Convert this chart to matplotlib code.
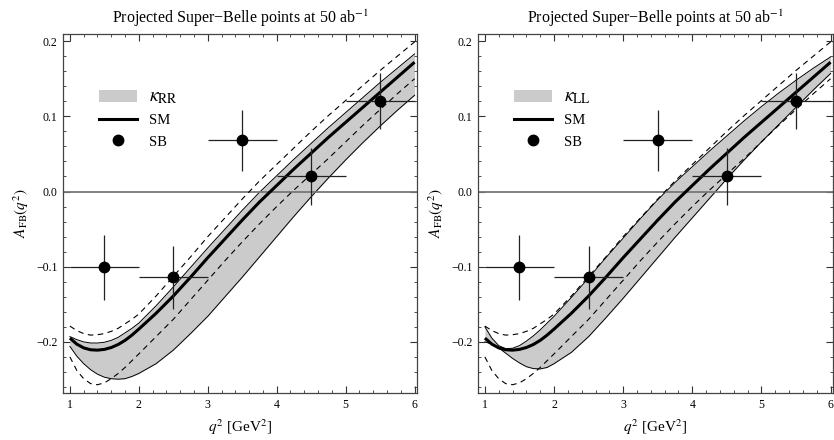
import matplotlib
matplotlib.use("Agg")
import matplotlib.pyplot as plt
from matplotlib.ticker import MultipleLocator, FuncFormatter
from matplotlib.patches import Patch
from matplotlib.lines import Line2D

plt.rcParams['font.family'] = ['Liberation Serif', 'DejaVu Serif']
plt.rcParams['mathtext.fontset'] = 'stix'

# ---- data ----
q2 = [1.0, 1.1, 1.2, 1.3, 1.4, 1.5, 1.6, 1.7, 1.8, 1.9, 2.0, 2.25, 2.5, 2.75,
      3.0, 3.25, 3.5, 3.75, 4.0, 4.25, 4.5, 4.75, 5.0, 5.25, 5.5, 5.75, 6.0]

sm = [-0.195, -0.203, -0.208, -0.2105, -0.211, -0.210, -0.2075, -0.2035, -0.198,
      -0.191, -0.183, -0.162, -0.139, -0.114, -0.088, -0.063, -0.038, -0.014,
      0.008, 0.030, 0.051, 0.072, 0.092, 0.112, 0.132, 0.152, 0.172]

dash_upper = [-0.179, -0.185, -0.189, -0.191, -0.1905, -0.189, -0.186, -0.182, -0.176,
              -0.170, -0.163, -0.139, -0.113, -0.087, -0.060, -0.035, -0.010, 0.014,
              0.036, 0.058, 0.080, 0.101, 0.121, 0.141, 0.161, 0.180, 0.199]

dash_lower = [-0.220, -0.238, -0.249, -0.2555, -0.257, -0.2545, -0.249, -0.242, -0.234,
              -0.225, -0.216, -0.193, -0.170, -0.144, -0.118, -0.092, -0.067, -0.043,
              -0.020, 0.002, 0.023, 0.044, 0.066, 0.088, 0.109, 0.130, 0.150]

rr_upper = [-0.193, -0.197, -0.200, -0.2015, -0.2015, -0.2005, -0.198, -0.194, -0.188,
            -0.182, -0.175, -0.152, -0.127, -0.101, -0.075, -0.050, -0.025, -0.001,
            0.021, 0.043, 0.064, 0.085, 0.105, 0.125, 0.145, 0.164, 0.183]

rr_lower = [-0.206, -0.219, -0.229, -0.237, -0.243, -0.247, -0.249, -0.2496, -0.249,
            -0.246, -0.242, -0.229, -0.211, -0.189, -0.166, -0.140, -0.114, -0.087,
            -0.060, -0.033, -0.007, 0.018, 0.042, 0.065, 0.087, 0.108, 0.128]

ll_edge_a = [-0.180, -0.195, -0.205, -0.209, -0.2085, -0.205, -0.199, -0.192, -0.184,
             -0.175, -0.166, -0.141, -0.115, -0.088, -0.062, -0.036, -0.011, 0.012,
             0.033, 0.054, 0.074, 0.094, 0.113, 0.131, 0.148, 0.164, 0.179]

ll_edge_b = [-0.200, -0.203, -0.208, -0.215, -0.222, -0.228, -0.233, -0.2355, -0.236,
             -0.234, -0.229, -0.214, -0.193, -0.168, -0.142, -0.115, -0.088, -0.061,
             -0.035, -0.009, 0.017, 0.042, 0.066, 0.089, 0.112, 0.135, 0.157]

sb_q2 = [1.5, 2.5, 3.5, 4.5, 5.5]
sb_afb = [-0.101, -0.114, 0.068, 0.020, 0.120]
sb_xerr = [0.5, 0.5, 0.5, 0.5, 0.5]
sb_yerr = [0.043, 0.042, 0.041, 0.038, 0.037]

panels = [
    ("$\\kappa_{\\rm RR}$", rr_upper, rr_lower),
    ("$\\kappa_{\\rm LL}$", ll_edge_a, ll_edge_b),
]

title = "Projected Super\u2212Belle points at 50 ab$^{-1}$"

W, H = 834, 440
fig = plt.figure(figsize=(W / 100, H / 100), dpi=100)
axes_px = [(63, 34, 417, 393), (478, 34, 833, 393)]

band_color = '#cbcbcb'

for (x0, y0, x1, y1), (lab, up, lo) in zip(axes_px, panels):
    ax = fig.add_axes([x0 / W, 1 - y1 / H, (x1 - x0) / W, (y1 - y0) / H])
    ax.set_xlim(0.9, 6.035)
    ax.set_ylim(-0.268, 0.2095)

    ax.fill_between(q2, up, lo, color=band_color, lw=0, zorder=1)
    ax.plot(q2, up, color='black', lw=0.7, zorder=2)
    ax.plot(q2, lo, color='black', lw=0.7, zorder=2)
    ax.plot(q2, dash_upper, color='black', lw=0.8, dashes=(5, 4), zorder=3)
    ax.plot(q2, dash_lower, color='black', lw=0.8, dashes=(5, 4), zorder=3)
    ax.axhline(0, color='#777777', lw=1.3, zorder=2.5)
    ax.plot(q2, sm, color='black', lw=2.2, zorder=4, solid_capstyle='butt')

    ax.errorbar(sb_q2, sb_afb, xerr=sb_xerr, yerr=sb_yerr, fmt='o',
                color='black', ecolor='#222222', elinewidth=0.9, capsize=0,
                markersize=7.5, zorder=5)

    handles = [Patch(facecolor=band_color, edgecolor='none'),
               Line2D([], [], color='black', lw=2.2),
               Line2D([], [], color='black', marker='o', ls='none', markersize=7.5)]
    leg = ax.legend(handles, [lab, 'SM', 'SB'], loc='upper left',
                    bbox_to_anchor=(0.085, 0.865), frameon=False,
                    handlelength=2.6, handleheight=0.9, handletextpad=0.8,
                    labelspacing=0.5, fontsize=10.5, borderaxespad=0)
    leg.get_texts()[0].set_fontsize(14)

    ax.set_title(title, fontsize=11.5, pad=8)
    ax.set_xlabel("$q^2$ [GeV$^2$]", fontsize=11, labelpad=5)
    ax.set_ylabel("$A_{\\rm FB}(q^2)$", fontsize=11, labelpad=4)

    ax.xaxis.set_major_locator(MultipleLocator(1))
    ax.xaxis.set_minor_locator(MultipleLocator(0.2))
    ax.yaxis.set_major_locator(MultipleLocator(0.1))
    ax.yaxis.set_minor_locator(MultipleLocator(0.02))
    ax.yaxis.set_major_formatter(FuncFormatter(lambda v, p: ("%.1f" % v).replace('-', '\u2212')))
    ax.xaxis.set_major_formatter(FuncFormatter(lambda v, p: "%d" % round(v)))
    ax.tick_params(which='both', direction='in', top=True, right=True,
                   colors='#333333', labelcolor='black', labelsize=8.5, pad=4)
    ax.tick_params(which='major', length=5, width=0.8)
    ax.tick_params(which='minor', length=2.5, width=0.6)
    for s in ax.spines.values():
        s.set_color('#444444')
        s.set_linewidth(0.9)

fig.savefig("out.png", dpi=100)
